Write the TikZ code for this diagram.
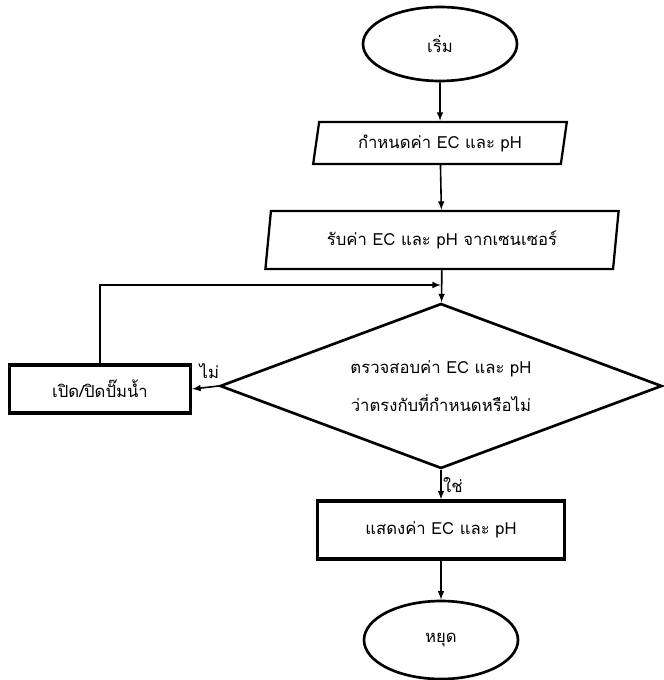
\documentclass[tikz,border=0pt]{standalone}
\usepackage{fontspec}
\usepackage{tikz}
\usetikzlibrary{shapes.geometric}
\newfontfamily\thaifont[Script=Thai]{Loma}

\begin{document}
\begin{tikzpicture}[x=0.75pt,y=-0.75pt,
        every node/.style={font=\thaifont\fontsize{12.5}{29}\selectfont},
        terminal/.style={draw,line width=2pt,ellipse,minimum width=154*0.75pt,minimum height=74*0.75pt,inner sep=0pt},
        inout/.style={draw,line width=1.7pt,trapezium,trapezium stretches=true,inner sep=0pt},
        process/.style={draw,line width=2.4pt,rectangle,inner sep=0pt},
        decision/.style={draw,line width=2pt,diamond,aspect=2.7,minimum width=442*0.75pt,minimum height=165*0.75pt,inner sep=0pt,align=center},
        flow/.style={-latex,line width=1.2pt}]
        \useasboundingbox (0,0) rectangle (663,680);
        \node[terminal] (start) at (440,44) {เริ่ม};
        \node[inout,trapezium left angle=76.6,trapezium right angle=103.4,minimum width=254*0.75pt,minimum height=42*0.75pt] (setval) at (440,143) {กำหนดค่า EC และ pH};
        \node[inout,trapezium left angle=78.3,trapezium right angle=101.7,minimum width=354*0.75pt,minimum height=58*0.75pt] (readval) at (442,240) {รับค่า EC และ pH จากเซนเซอร์};
        \coordinate (join) at (441,285);
        \node[decision] (check) at (441,386) {ตรวจสอบค่า EC และ pH\\ว่าตรงกับที่กำหนดหรือไม่};
        \node[process,minimum width=181*0.75pt,minimum height=48*0.75pt] (pump) at (100,389) {เปิด/ปิดปั๊มน้ำ};
        \node[process,minimum width=247*0.75pt,minimum height=58*0.75pt] (show) at (441,530) {แสดงค่า EC และ pH};
        \node[terminal,minimum height=78*0.75pt] (stop) at (441,640) {หยุด};
        \draw[flow] (start) -- (setval);
        \draw[flow] (setval) -- (readval);
        \draw[flow] (readval) -- (check);
        \draw[flow] (pump.north) |- (join);
        \draw[flow] (check.west) -- node[above,pos=0.35,inner sep=6pt] {ไม่} (pump.east);
        \draw[flow] (check.south) -- node[right,inner sep=1pt] {ใช่} (show.north);
        \draw[flow] (show) -- (stop);
\end{tikzpicture}
\end{document}
